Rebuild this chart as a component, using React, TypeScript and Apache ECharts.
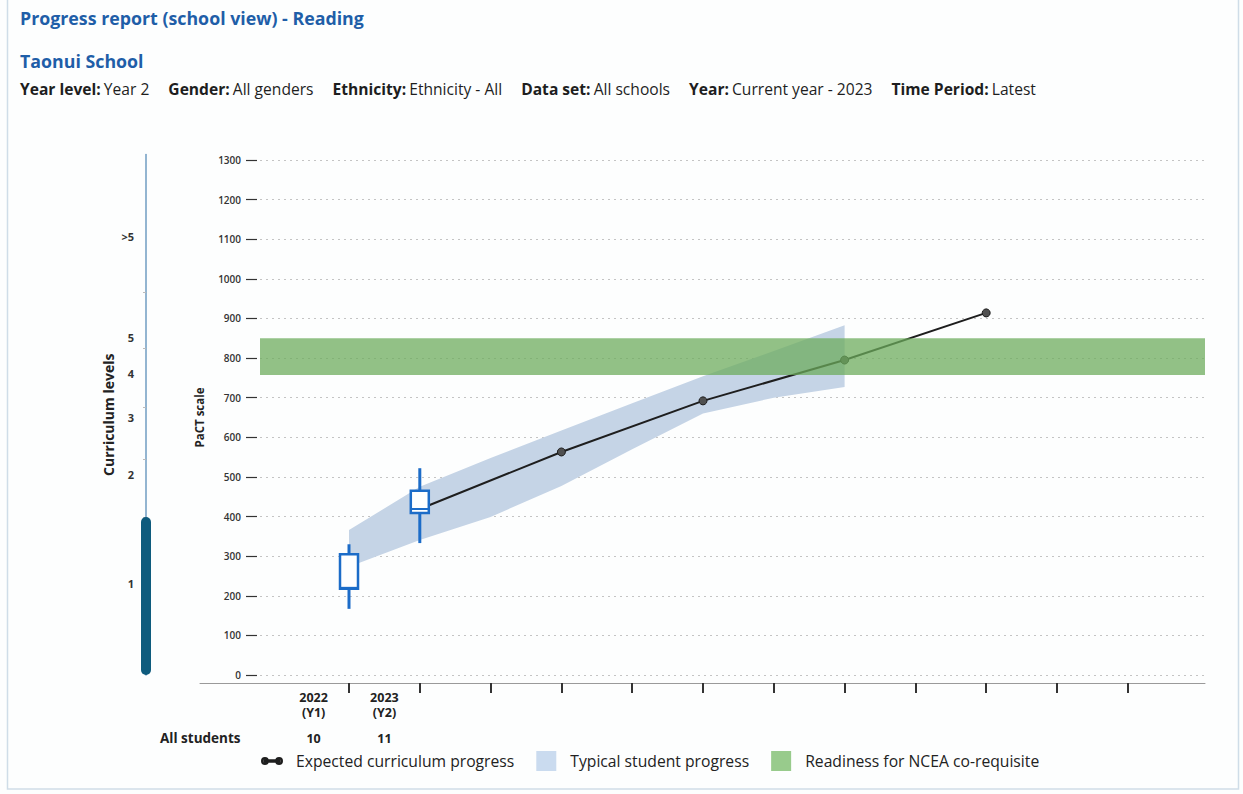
import React, { useEffect, useRef } from "react";
import * as echarts from "echarts";

// ---------- data ----------
const reportTitle = "Progress report (school view) - Reading";
const schoolName = "Taonui School";
const filterLabels = ["Year level:", "Gender:", "Ethnicity:", "Data set:", "Year:", "Time Period:"];
const filterValues = ["Year 2", "All genders", "Ethnicity - All", "All schools", "Current year - 2023", "Latest"];

const years = ["2022", "2023"];
const yearLevels = ["(Y1)", "(Y2)"];
const studentCounts = [10, 11];
const boxPositions = [0, 1];
// [min, q1, median, q3, max]
const boxStats = [
  [167, 218, 220, 305, 330],
  [333, 409, 419, 465, 522],
];

const expectedX = [1, 3, 5, 7, 9];
const expectedY = [419, 563, 692, 795, 914];

const bandX = [0, 1, 2, 3, 4, 5, 6, 7];
const bandLow = [273, 341, 399, 477, 570, 660, 700, 727];
const bandHigh = [366, 475, 548, 617, 686, 754, 818, 883];

const readinessRange = [757, 850];

const xTickValues = [0, 1, 2, 3, 4, 5, 6, 7, 8, 9, 10, 11];

const curriculumLevels = [">5", "5", "4", "3", "2", "1"];
const curriculumLabelAt = [1108, 851, 760, 651, 505, 230];
const curriculumBoundaries = [967, 825, 676, 545, 399];
const currentLevelTop = [399];

const legendNames = ["Expected curriculum progress", "Typical student progress", "Readiness for NCEA co-requisite"];

// ---------- layout ----------
const FONT = "'Open Sans', 'Noto Sans', sans-serif";
const TICK0_PX = 349;
const UNIT_PX = 70.8;
const GRID_LEFT = 260;
const GRID_RIGHT_PX = 1205;
const AXIS_LEFT = 200;
const X_MIN_MAIN = (GRID_LEFT - TICK0_PX) / UNIT_PX;
const X_MIN_AXIS = (AXIS_LEFT - TICK0_PX) / UNIT_PX;
const X_MAX = (GRID_RIGHT_PX - TICK0_PX) / UNIT_PX;
const BLUE = "#1c6cc8";
const LINE_ICON =
  "path://M0.5,4a2.5,2.5 0 1,0 5,0a2.5,2.5 0 1,0 -5,0z M3,3.3h12v1.4h-12z M12.5,4a2.5,2.5 0 1,0 5,0a2.5,2.5 0 1,0 -5,0z";

export default function App() {
  const ref = useRef<HTMLDivElement>(null);

  useEffect(() => {
    if (!ref.current) return;
    const chart = echarts.init(ref.current, null, { renderer: "svg" });

    const richFilters = filterLabels
      .map((l, i) => `{b|${l}} {r|${filterValues[i]}}`)
      .join("{s|}");

    const option: any = {
      animation: false,
      backgroundColor: "#fdfefe",
      textStyle: { fontFamily: FONT },
      grid: [
        { left: GRID_LEFT, top: 160, width: GRID_RIGHT_PX - GRID_LEFT, height: 515 },
        { left: AXIS_LEFT, top: 160, width: GRID_RIGHT_PX - AXIS_LEFT, height: 523 },
        { left: 141, top: 154.5, width: 10, height: 520.5 },
      ],
      xAxis: [
        { gridIndex: 0, type: "value", min: X_MIN_MAIN, max: X_MAX, show: false },
        {
          gridIndex: 1,
          type: "value",
          min: X_MIN_AXIS,
          max: X_MAX,
          position: "bottom",
          axisLine: { show: true, onZero: false, lineStyle: { color: "#9a9a9a", width: 1 } },
          axisTick: { show: true, customValues: xTickValues, length: 10, lineStyle: { color: "#333", width: 2 } },
          axisLabel: {
            show: true,
            customValues: boxPositions.map((p) => p - 0.5),
            formatter: (v: number) => {
              const i = boxPositions.findIndex((p) => Math.abs(p - 0.5 - v) < 0.01);
              if (i < 0) return "";
              return `{y|${years[i]}}\n{y|${yearLevels[i]}}\n{g|}\n{n|${studentCounts[i]}}`;
            },
            margin: 6.5,
            fontFamily: FONT,
            rich: {
              y: { fontSize: 12.5, fontWeight: "bold", color: "#222", lineHeight: 15, fontFamily: FONT },
              g: { fontSize: 8, lineHeight: 11 },
              n: { fontSize: 12.5, fontWeight: "bold", color: "#222", lineHeight: 15, fontFamily: FONT },
            },
          },
          splitLine: { show: false },
        },
        { gridIndex: 2, type: "category", data: ["level"], show: false },
      ],
      yAxis: [
        {
          gridIndex: 0,
          type: "value",
          min: 0,
          max: 1300,
          interval: 100,
          offset: 3,
          name: "PaCT scale",
          nameLocation: "middle",
          nameRotate: 90,
          nameGap: 52,
          nameTextStyle: { fontSize: 11.5, fontWeight: "bold", color: "#222", fontFamily: FONT },
          axisLine: { show: false, onZero: false },
          axisTick: { show: true, length: 11, lineStyle: { color: "#333", width: 1.2 } },
          axisLabel: { fontSize: 10, fontWeight: 600, color: "#333", margin: 16, fontFamily: FONT, formatter: (v: number) => String(v) },
          splitLine: { show: true, lineStyle: { type: [2, 4], color: "#c4c4c4", width: 1.2 } },
        },
        { gridIndex: 1, type: "value", min: 0, max: 1, show: false },
        {
          gridIndex: 2,
          type: "value",
          min: 0,
          max: 1314,
          position: "left",
          offset: -5,
          name: "Curriculum levels",
          nameLocation: "middle",
          nameRotate: 90,
          nameGap: 31,
          nameTextStyle: { fontSize: 14, fontWeight: "bold", color: "#222", fontFamily: FONT },
          axisLine: { show: true, onZero: false, lineStyle: { color: "#6f9cc2", width: 1.5 } },
          axisTick: { show: true, customValues: curriculumBoundaries, length: 3, lineStyle: { color: "#bbbbbb" } },
          axisLabel: {
            customValues: curriculumLabelAt,
            formatter: (v: number) => {
              const i = curriculumLabelAt.findIndex((p) => Math.abs(p - v) < 0.01);
              return i < 0 ? "" : curriculumLevels[i];
            },
            margin: 12,
            fontSize: 11,
            fontWeight: "bold",
            color: "#333",
            fontFamily: FONT,
          },
          splitLine: { show: false },
        },
      ],
      legend: {
        left: 256,
        top: 746,
        itemWidth: 20,
        itemHeight: 20,
        itemGap: 22,
        selectedMode: false,
        textStyle: { fontSize: 15.7, color: "#222", fontFamily: FONT, padding: [0, 0, 0, 9] },
        data: [
          { name: legendNames[0], icon: LINE_ICON },
          { name: legendNames[1], icon: "rect" },
          { name: legendNames[2], icon: "rect" },
        ],
      },
      series: [
        {
          type: "custom",
          name: legendNames[1],
          xAxisIndex: 0,
          yAxisIndex: 0,
          z: 1,
          silent: true,
          itemStyle: { color: "#cadbef" },
          encode: { x: 0, y: [1, 2] },
          data: bandX.map((x, i) => [x, bandLow[i], bandHigh[i]]),
          renderItem: (params: any, api: any) => {
            if (params.dataIndex !== 0) return { type: "group", children: [] };
            const pts: number[][] = [];
            bandX.forEach((x, i) => pts.push(api.coord([x, bandHigh[i]])));
            for (let i = bandX.length - 1; i >= 0; i--) pts.push(api.coord([bandX[i], bandLow[i]]));
            return { type: "polygon", shape: { points: pts }, style: { fill: "#c5d4e6" } };
          },
        },
        {
          type: "line",
          name: legendNames[0],
          xAxisIndex: 0,
          yAxisIndex: 0,
          z: 2,
          silent: true,
          color: "#222",
          data: expectedX.map((x, i) => ({ value: [x, expectedY[i]], symbol: i === 0 ? "none" : "circle" })),
          symbolSize: 8,
          lineStyle: { color: "#1e1e1e", width: 2 },
          itemStyle: { color: "#505050", borderColor: "#1e1e1e", borderWidth: 1 },
        },
        {
          type: "custom",
          name: "boxes",
          xAxisIndex: 0,
          yAxisIndex: 0,
          z: 3,
          silent: true,
          encode: { x: 0, y: [1, 2, 3, 4, 5] },
          data: boxPositions.map((p, i) => [p, ...boxStats[i]]),
          renderItem: (params: any, api: any) => {
            const x = api.value(0);
            const pLo = api.coord([x, api.value(1)]);
            const pQ1 = api.coord([x, api.value(2)]);
            const pMed = api.coord([x, api.value(3)]);
            const pQ3 = api.coord([x, api.value(4)]);
            const pHi = api.coord([x, api.value(5)]);
            const hw = 9;
            return {
              type: "group",
              children: [
                { type: "line", shape: { x1: pLo[0], y1: pLo[1], x2: pHi[0], y2: pHi[1] }, style: { stroke: BLUE, lineWidth: 3 } },
                {
                  type: "rect",
                  shape: { x: pQ3[0] - hw, y: pQ3[1], width: hw * 2, height: pQ1[1] - pQ3[1] },
                  style: { fill: "#ffffff", stroke: BLUE, lineWidth: 2.5 },
                },
                {
                  type: "line",
                  shape: { x1: pMed[0] - hw, y1: pMed[1], x2: pMed[0] + hw, y2: pMed[1] },
                  style: { stroke: BLUE, lineWidth: 2 },
                },
              ],
            };
          },
        },
        {
          type: "custom",
          name: legendNames[2],
          xAxisIndex: 0,
          yAxisIndex: 0,
          z: 4,
          silent: true,
          itemStyle: { color: "#98cb8c" },
          encode: { y: [0, 1] },
          data: [readinessRange],
          renderItem: (params: any, api: any) => {
            const cs = params.coordSys;
            const top = api.coord([0, api.value(1)])[1];
            const bottom = api.coord([0, api.value(0)])[1];
            return {
              type: "rect",
              shape: { x: cs.x, y: top, width: cs.width, height: bottom - top },
              style: { fill: "rgba(108,172,92,0.74)" },
            };
          },
        },
        {
          type: "bar",
          name: "current level",
          xAxisIndex: 2,
          yAxisIndex: 2,
          silent: true,
          barWidth: 10,
          data: currentLevelTop,
          itemStyle: { color: "#0e5b7d", borderRadius: 5 },
        },
      ],
      graphic: [
        {
          type: "rect",
          silent: true,
          shape: { x: 7.5, y: -5, width: 1231, height: 794 },
          style: { fill: "none", stroke: "#cfdde8", lineWidth: 1.5 },
        },
        {
          type: "text",
          style: { text: reportTitle, x: 20, y: 18, verticalAlign: "middle", fontSize: 17.8, fontWeight: "bold", fill: "#1f5ea8", fontFamily: FONT },
        },
        {
          type: "text",
          style: { text: schoolName, x: 20, y: 61, verticalAlign: "middle", fontSize: 17.8, fontWeight: "bold", fill: "#1f5ea8", fontFamily: FONT },
        },
        {
          type: "text",
          style: {
            text: richFilters,
            x: 20,
            y: 89,
            verticalAlign: "middle",
            fontFamily: FONT,
            rich: {
              b: { fontSize: 15.6, fontWeight: "bold", fill: "#1e1e1e", fontFamily: FONT },
              r: { fontSize: 15.6, fontWeight: "normal", fill: "#1e1e1e", fontFamily: FONT },
              s: { width: 19 },
            },
          },
        },
        {
          type: "text",
          style: { text: "All students", x: 160, y: 738, verticalAlign: "middle", fontSize: 13.5, fontWeight: "bold", fill: "#222", fontFamily: FONT },
        },
      ],
    };

    chart.setOption(option);
    return () => chart.dispose();
  }, []);

  return <div ref={ref} style={{ position: "fixed", left: 0, top: 0, width: 1243, height: 794 }} />;
}
